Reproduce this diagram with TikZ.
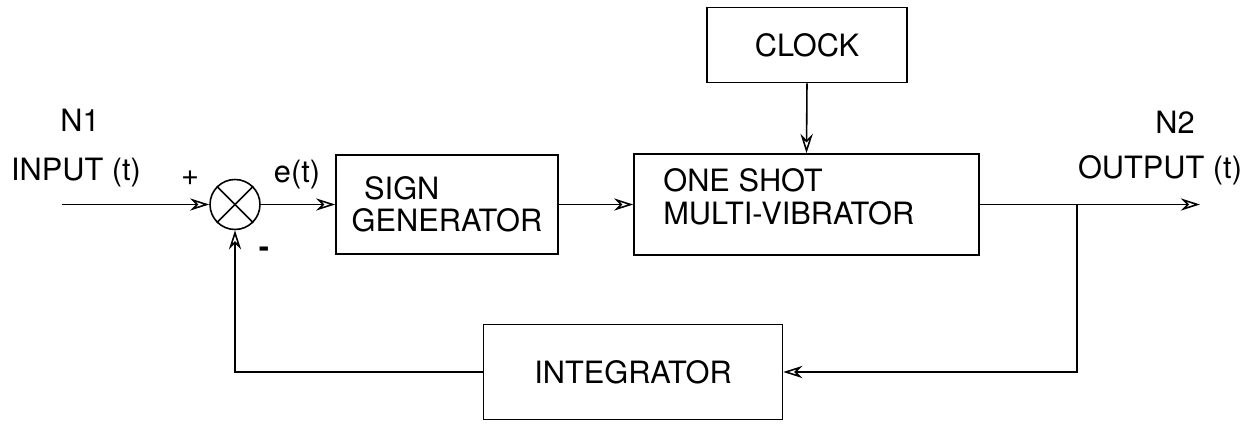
\documentclass[tikz,border=0pt]{standalone}
\usepackage{fontspec}
\setmainfont{TeX Gyre Heros}
\usepackage{tikz}
\usetikzlibrary{arrows.meta, calc, positioning}

\begin{document}
\begin{tikzpicture}[x=0.02cm, y=-0.02cm, >={Stealth[open, length=11pt, width=7pt]},
    every node/.style={font=\fontsize{17.5}{18.5}\selectfont}]
        \tikzstyle{block}=[draw, line width=0.9pt, inner sep=0pt]
        \tikzstyle{wire}=[line width=0.9pt]
        \useasboundingbox (0,0) rectangle (1249,425);

        % Summing junction
        \node[draw, circle, line width=0.9pt, minimum size=1cm, inner sep=0pt] (sum) at (235,204.5) {};
        \draw[wire] (sum.45) -- (sum.225);
        \draw[wire] (sum.135) -- (sum.315);

        % Blocks
        \node[block, minimum width=4.44cm, minimum height=1.98cm, align=left] (sign) at (447,204.5) {\hspace*{0.25cm}SIGN\\GENERATOR};
        \node[block, minimum width=6.9cm, minimum height=2.02cm] (osm) at (806.5,204.5) {};
        \node[anchor=west, align=left, inner sep=0pt] (osmtext) at (663,197) {ONE SHOT\\MULTI-VIBRATOR};
        \node[block, minimum width=4cm, minimum height=1.5cm] (clock) at (807,45) {CLOCK};
        \node[block, minimum width=5.98cm, minimum height=1.9cm] (integ) at (633,372) {INTEGRATOR};

        % Labels
        \node (n1) at (80,120) {N1};
        \node (inlabel) at (76,173) {INPUT (t)};
        \node (n2) at (1175,122) {N2};
        \node (outlabel) at (1160,170) {OUTPUT (t)};
        \node (plus) at (190,178) {+};
        \node (minus) at (264,252) {\textbf{-}};
        \node (err) at (297,175) {e(t)};

        % Signal path
        \coordinate (in) at (62,204.5);
        \coordinate (out) at (1200,204.5);
        \coordinate (branch) at (1077,204.5);
        \draw[wire, ->] (in) -- (sum.west);
        \draw[wire, ->] (sum.east) -- (sign.west);
        \draw[wire, ->] (sign.east) -- (osm.west);
        \draw[wire, ->] (clock.south) -- (osm.north);
        \draw[wire, ->] (osm.east) -- (out);

        % Feedback loop
        \draw[wire, ->] (branch) |- (integ.east);
        \draw[wire, ->] (integ.west) -| (sum.south);
\end{tikzpicture}
\end{document}
